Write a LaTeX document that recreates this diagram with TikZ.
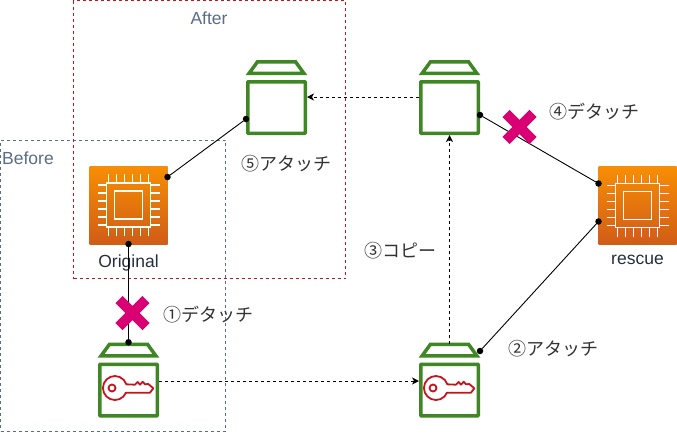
\documentclass[tikz,border=0pt]{standalone}
\usepackage{fontspec}
\setmainfont{Liberation Sans}
\newfontfamily\jpfont{Noto Sans CJK JP}
\usetikzlibrary{ arrows.meta, calc, positioning, shapes.geometric, shapes.misc }
\definecolor{volgreen}{HTML}{3F8624}
\definecolor{keyred}{HTML}{C7131F}
\definecolor{slate}{HTML}{5A6C86}
\definecolor{ink}{HTML}{232F3E}
\definecolor{crossred}{HTML}{D80073}
\definecolor{chiptop}{HTML}{F78E04}
\definecolor{chipbot}{HTML}{D05C17}
\tikzset{
>={Stealth[length=7pt,width=7pt,inset=2pt]}, % arrow heads of the copy lines
every node/.style={inner sep=0pt, outer sep=0pt},
lbl/.style={font=\fontsize{17.5}{20}\selectfont, text=#1},
lbl/.default=ink,
jp/.style={font=\fontsize{18}{20}\selectfont\jpfont, text=black!80},
body/.style={draw=volgreen, line width=3.5pt, rounded corners=0.5pt, fill=white, minimum width=57.5pt, minimum height=51.5pt, outer sep=1.75pt},
lid/.style={draw=volgreen, line width=3.5pt, trapezium, trapezium left angle=54, trapezium right angle=54, text width=38pt, text height=11.5pt, text depth=0pt},
ec2/.style={minimum size=78pt, top color=chiptop, bottom color=chipbot},
crossmark/.style={cross out, draw=crossred, line width=10pt, minimum size=27pt},
dot/.style={circle, fill=black, minimum size=6.5pt},
wire/.style={line width=0.9pt},
copyline/.style={->, line width=0.9pt, dash pattern=on 3pt off 3pt},
chip/.pic={
  \draw[white, line width=1.7pt] (-22,-22) rectangle (22,22);
  \draw[white, line width=1.7pt] (-14,-14) rectangle (14,14);
  \foreach \p in {-20,-12,-4,4,12,20}{
    \draw[white, line width=1.7pt] (\p,-31) -- (\p,-22) (\p,22) -- (\p,31);
    \draw[white, line width=1.7pt] (-31,\p) -- (-22,\p) (22,\p) -- (31,\p);
  }
},
keyicon/.pic={
  \draw[keyred, line width=1.8pt, line join=round] (-2.5,2.7) arc[start angle=-23, end angle=-342, radius=12pt]
    -- (6.5,-5.3) -- (9.2,-8) -- (11.5,-5.3) -- (14.2,-8.3) -- (16.5,-5.7) -- (19.8,-6) -- (24.8,-1.7) -- (21.5,2.7) -- cycle;
  \draw[keyred, line width=1.8pt] (-16.5,-2) circle[radius=3.5pt];
},
}

\begin{document}
\begin{tikzpicture}[x=1pt,y=-1pt]
  \useasboundingbox (0,0) rectangle (677,432);

  % the two groups
  \node[draw=slate, line width=0.9pt, dash pattern=on 3pt off 3pt, minimum width=225pt, minimum height=291pt] (before) at (113,285.5) {};
  \node[draw=keyred, line width=0.9pt, dash pattern=on 3pt off 3pt, minimum width=272pt, minimum height=278pt] (after) at (209.5,139.5) {};
  \node[lbl=slate] (beforetxt) at (28,158) {Before};
  \node[lbl=slate] (aftertxt) at (209,18) {After};

  \node[ec2] (orig) at (128.5,205) {};
  \node[ec2] (resc) at (637.5,205.5) {};
  \pic at (orig) {chip};
  \pic at (resc) {chip};
  \node[lbl, below=10.5pt of orig] (origtxt) {Original};
  \node[lbl, below=10.5pt of resc] (resctxt) {rescue};

  % volumes: body first, the lid sits above it
  \node[body] (vol1) at (128.5,390) {};
  \node[body] (vol2) at (449.5,390) {};
  \node[body] (vol3) at (449.5,107.5) {};
  \node[body] (vol4) at (276.5,107.5) {};
  \node[lid, above=6.75pt of vol1] (lid1) {};
  \node[lid, above=6.75pt of vol2] (lid2) {};
  \node[lid, above=6.75pt of vol3] (lid3) {};
  \node[lid, above=6.75pt of vol4] (lid4) {};
  \pic at (vol1) {keyicon};
  \pic at (vol2) {keyicon};

  % Connection points
  \node[dot] (origdown) at (orig.south) {};
  \node[dot] (lid1top) at ($(lid1.north)+(0,-2)$) {};
  \node[dot] (origout) at ($(orig.north east)+(0,11)$) {};
  \node[dot] (vol4in) at ($(vol4.north west)+(0,39)$) {};
  \node[dot] (vol3out) at ($(vol3.north east)+(0,35)$) {};
  \node[dot] (rescup) at ($(resc.north west)+(0,17)$) {};
  \node[dot] (rescdown) at ($(resc.north west)+(0,55)$) {};
  \node[dot] (lid2out) at ($(vol2.north east)+(0,-11.5)$) {};

  \path[wire]
  (origdown) edge (lid1top)
  (origout) edge (vol4in)
  (vol3out) edge (rescup)
  (rescdown) edge (lid2out);

  \path[copyline]
  (vol1.east |- 0,381) edge (vol2.west |- 0,381)
  (lid2.north) edge (vol3.south)
  (vol3.west |- 0,97) edge (vol4.east |- 0,97);

  \node[crossmark] (cross1) at (132.5,313) {};
  \node[crossmark] (cross2) at (519.5,127) {};

  \node[jp] (step1) at (208,315) {①デタッチ};
  \node[jp] (step2) at (553,349) {②アタッチ};
  \node[jp] (step3) at (400,251) {③コピー};
  \node[jp] (step4) at (594,112) {④デタッチ};
  \node[jp] (step5) at (286,164) {⑤アタッチ};
\end{tikzpicture}
\end{document}
